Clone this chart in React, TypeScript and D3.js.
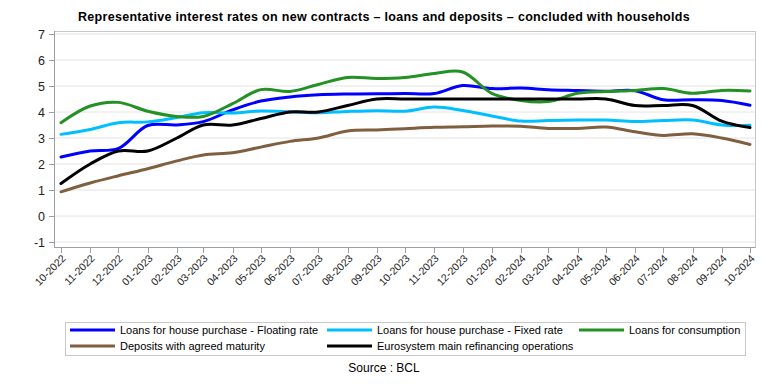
import React from "react";
import * as d3 from "d3";

const months = ["10-2022","11-2022","12-2022","01-2023","02-2023","03-2023","04-2023","05-2023","06-2023","07-2023","08-2023","09-2023","10-2023","11-2023","12-2023","01-2024","02-2024","03-2024","04-2024","05-2024","06-2024","07-2024","08-2024","09-2024","10-2024"];

const floatingRate = [2.27,2.5,2.6,3.48,3.5,3.63,4.08,4.42,4.58,4.66,4.69,4.7,4.71,4.71,5.02,4.9,4.92,4.86,4.83,4.8,4.82,4.47,4.47,4.44,4.26];
const fixedRate = [3.14,3.33,3.59,3.62,3.79,3.97,3.96,4.04,4.01,3.97,4.02,4.05,4.03,4.19,4.06,3.85,3.65,3.67,3.69,3.69,3.63,3.67,3.69,3.5,3.49];
const consumption = [3.59,4.23,4.37,4.03,3.83,3.83,4.32,4.86,4.79,5.06,5.33,5.29,5.33,5.48,5.54,4.72,4.44,4.4,4.72,4.79,4.83,4.9,4.72,4.83,4.81];
const deposits = [0.93,1.27,1.55,1.82,2.12,2.35,2.43,2.65,2.87,3.0,3.27,3.31,3.36,3.41,3.43,3.46,3.45,3.37,3.37,3.42,3.24,3.1,3.16,3.0,2.75];
const mro = [1.25,2.0,2.5,2.5,3.0,3.5,3.5,3.75,4.0,4.0,4.25,4.5,4.5,4.5,4.5,4.5,4.5,4.5,4.5,4.5,4.25,4.25,4.25,3.65,3.4];

const yTicks = [-1,0,1,2,3,4,5,6,7];

const seriesNames = [
  "Loans for house purchase - Floating rate",
  "Loans for house purchase - Fixed rate",
  "Loans for consumption",
  "Deposits with agreed maturity",
  "Eurosystem main refinancing operations",
];
const seriesValues = [floatingRate, fixedRate, consumption, deposits, mro];
const seriesColors = ["#0000FF", "#00BFFF", "#249124", "#7F5F3F", "#000000"];

const FONT = "'Liberation Sans', Arial, sans-serif";

function toDate(m: string) {
  const [mm, yy] = m.split("-").map(Number);
  return new Date(Date.UTC(yy, mm - 1, 1));
}

export default function App() {
  const W = 768, H = 384;
  const frame = { left: 54, right: 755, top: 31, bottom: 247 };
  const dates = months.map(toDate);
  const x = d3.scaleUtc().domain([dates[0], dates[dates.length - 1]]).range([61, 750]);
  const y = d3.scaleLinear().domain([-1, 7]).range([242, 34]);

  const line = d3.line<number>()
    .x((_, i) => x(dates[i]))
    .y((v) => y(v))
    .curve(d3.curveCatmullRom.alpha(0.5));

  const legendCols = [70, 327, 579];
  const legendRows = [330, 346];
  const legendPos = [
    [0, 0], [1, 0], [2, 0], [0, 1], [1, 1],
  ];

  return (
    <svg width={W} height={H} style={{ position: "absolute", left: 0, top: 0, background: "#fff" }}>
      <rect x={0} y={0} width={W} height={H} fill="#fff" />
      <text x={384} y={21} textAnchor="middle" fontFamily={FONT} fontWeight="bold" fontSize={12.5} letterSpacing={0.3} fill="#000">
        Representative interest rates on new contracts – loans and deposits – concluded with households
      </text>

      {yTicks.map((t) => (
        <line key={"g" + t} x1={frame.left} x2={frame.right} y1={y(t)} y2={y(t)} stroke="#e4e4e4" strokeWidth={1} />
      ))}

      <rect x={frame.left + 0.5} y={frame.top + 0.5} width={frame.right - frame.left} height={frame.bottom - frame.top} fill="none" stroke="#c8c8c8" />
      <line x1={frame.left + 0.5} x2={frame.left + 0.5} y1={frame.top} y2={frame.bottom + 0.5} stroke="#9aa0a6" />
      <line x1={frame.left} x2={frame.right + 0.5} y1={frame.bottom + 0.5} y2={frame.bottom + 0.5} stroke="#9aa0a6" />

      {yTicks.map((t) => (
        <g key={"y" + t}>
          <line x1={49} x2={frame.left} y1={Math.round(y(t)) + 0.5} y2={Math.round(y(t)) + 0.5} stroke="#9aa0a6" />
          <text x={45} y={y(t) + 4.5} textAnchor="end" fontFamily={FONT} fontSize={12.5} fill="#222">{t}</text>
        </g>
      ))}

      {months.map((m, i) => {
        const xx = Math.round(x(dates[i])) + 0.5;
        return (
          <g key={m}>
            <line x1={xx} x2={xx} y1={frame.bottom} y2={frame.bottom + 6} stroke="#9aa0a6" />
            <text transform={`translate(${xx + 5},${frame.bottom + 12}) rotate(-45)`} textAnchor="end" fontFamily={FONT} fontSize={10.5} fill="#222">{m}</text>
          </g>
        );
      })}

      {seriesValues.map((vals, k) => (
        <path key={"s" + k} d={line(vals) || ""} fill="none" stroke={seriesColors[k]} strokeWidth={3} strokeLinejoin="round" strokeLinecap="round" />
      ))}

      <rect x={65.5} y={322.5} width={680} height={33} fill="none" stroke="#c8c8c8" />
      {seriesNames.map((name, k) => {
        const [c, r] = legendPos[k];
        const lx = legendCols[c];
        const ly = legendRows[r];
        return (
          <g key={"l" + k}>
            <line x1={lx} x2={lx + 45} y1={ly} y2={ly} stroke={seriesColors[k]} strokeWidth={3} />
            <text x={lx + 50} y={ly + 4} fontFamily={FONT} fontSize={11} fill="#000">{name}</text>
          </g>
        );
      })}

      <text x={384} y={372} textAnchor="middle" fontFamily={FONT} fontSize={12} fill="#000">Source : BCL</text>
    </svg>
  );
}
